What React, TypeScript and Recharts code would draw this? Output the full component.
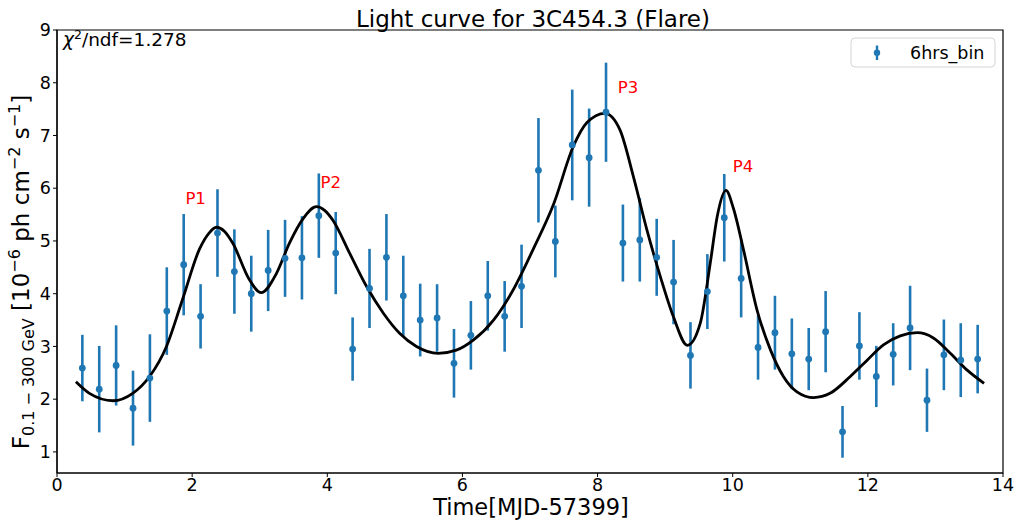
import React from "react";
import {
  ComposedChart,
  Scatter,
  Line,
  XAxis,
  YAxis,
  ErrorBar,
  ReferenceArea,
} from "recharts";

// 6 hr binned flux points, MJD-57399
const binTime = [
  0.375, 0.625, 0.875, 1.125, 1.375, 1.625, 1.875, 2.125, 2.375, 2.625,
  2.875, 3.125, 3.375, 3.625, 3.875, 4.125, 4.375, 4.625, 4.875, 5.125,
  5.375, 5.625, 5.875, 6.125, 6.375, 6.625, 6.875, 7.125, 7.375, 7.625,
  7.875, 8.125, 8.375, 8.625, 8.875, 9.125, 9.375, 9.625, 9.875, 10.125,
  10.375, 10.625, 10.875, 11.125, 11.375, 11.625, 11.875, 12.125, 12.375, 12.625,
  12.875, 13.125, 13.375, 13.625,
];
const binFlux = [
  2.59, 2.19, 2.64, 1.83, 2.4, 3.67, 4.55, 3.57, 5.15, 4.42,
  4.0, 4.44, 4.67, 4.68, 5.48, 4.77, 2.95, 4.1, 4.69, 3.96,
  3.5, 3.54, 2.68, 3.21, 3.96, 3.57, 4.14, 6.34, 4.99, 6.82,
  6.58, 7.44, 4.96, 5.02, 4.69, 4.22, 2.83, 4.04, 5.44, 4.29,
  2.98, 3.26, 2.86, 2.76, 3.28, 1.38, 3.01, 2.43, 2.85, 3.35,
  1.98, 2.84, 2.74, 2.76,
];
const binErr = [
  0.63, 0.82, 0.76, 0.71, 0.83, 0.83, 0.96, 0.61, 0.83, 0.8,
  0.72, 0.77, 0.73, 0.79, 0.8, 0.78, 0.6, 0.75, 0.82, 0.76,
  0.69, 0.64, 0.65, 0.65, 0.66, 0.67, 0.79, 0.99, 0.68, 1.05,
  0.93, 0.94, 0.73, 0.79, 0.73, 0.8, 0.63, 0.71, 0.83, 0.74,
  0.61, 0.7, 0.67, 0.59, 0.77, 0.49, 0.64, 0.58, 0.59, 0.8,
  0.6, 0.67, 0.7, 0.65,
];

// fitted profile
const fitTime = [
  0.28, 0.48, 0.83, 1.12, 1.37, 1.62, 1.86, 2.11, 2.25, 2.36,
  2.48, 2.6, 2.85, 3.02, 3.25, 3.44, 3.64, 3.84, 3.96, 4.09,
  4.33, 4.58, 4.83, 5.07, 5.32, 5.64, 5.91, 6.16, 6.46, 6.75,
  7.05, 7.35, 7.64, 7.84, 8.11, 8.33, 8.53, 8.73, 8.93, 9.12,
  9.33, 9.52, 9.67, 9.77, 9.9, 10.01, 10.16, 10.36, 10.56, 10.75,
  10.95, 11.2, 11.44, 11.74, 11.99, 12.23, 12.48, 12.73, 12.97, 13.22,
  13.47, 13.72,
];
const fitFlux = [
  2.33, 2.11, 1.97, 2.11, 2.43, 3.0, 3.9, 4.85, 5.15, 5.26,
  5.18, 4.96, 4.26, 4.02, 4.39, 4.96, 5.42, 5.65, 5.58, 5.38,
  4.77, 4.14, 3.63, 3.25, 3.0, 2.87, 2.93, 3.12, 3.5, 4.07,
  4.85, 5.7, 6.79, 7.24, 7.42, 7.11, 6.22, 5.21, 4.32, 3.57,
  3.02, 3.44, 4.6, 5.46, 5.96, 5.62, 4.83, 3.69, 2.93, 2.43,
  2.14, 2.03, 2.11, 2.43, 2.74, 3.03, 3.2, 3.26, 3.16, 2.87,
  2.55, 2.3,
];

const peakNames = ["P1", "P2", "P3", "P4"];
const peakTime = [1.9, 3.9, 8.3, 10.0];
const peakFlux = [5.7, 6.0, 7.8, 6.3];

const xTicks = [0, 2, 4, 6, 8, 10, 12, 14];
const yTicks = [1, 2, 3, 4, 5, 6, 7, 8, 9];

const points = binTime.map((x, i) => ({ x, flux: binFlux[i], err: binErr[i] }));
const fit = fitTime.map((x, i) => ({ x, fit: fitFlux[i] }));
const peaks = peakNames.map((name, i) => ({ x: peakTime[i], ly: peakFlux[i], name }));

const BLUE = "#1f77b4";
const FONT = "DejaVu Sans";
const tickStyle = { fontSize: 17.5, fill: "#000", fontFamily: FONT };

export default function App() {
  return (
    <div style={{ position: "absolute", left: 0, top: 0, width: 1018, height: 520, background: "#fff" }}>
      <ComposedChart
        width={1018}
        height={520}
        margin={{ top: 30, right: 15, bottom: 0, left: 0 }}
        style={{ fontFamily: FONT }}
      >
        <XAxis
          dataKey="x"
          type="number"
          domain={[0, 14]}
          ticks={xTicks}
          height={47}
          tick={tickStyle}
          tickSize={4}
          stroke="#000"
          tickLine={{ stroke: "#000" }}
          axisLine={{ stroke: "#000", strokeWidth: 1.2 }}
          allowDataOverflow
        />
        <YAxis
          type="number"
          domain={[0.6, 9]}
          ticks={yTicks}
          width={57}
          tick={tickStyle}
          tickSize={4}
          stroke="#000"
          tickLine={{ stroke: "#000" }}
          axisLine={{ stroke: "#000", strokeWidth: 1.2 }}
          allowDataOverflow
        />
        {/* axes frame */}
        <ReferenceArea
          x1={0}
          x2={14}
          y1={0.6}
          y2={9}
          fill="none"
          fillOpacity={0}
          stroke="#000"
          strokeWidth={1.2}
          ifOverflow="visible"
        />
        <Scatter
          data={points}
          dataKey="flux"
          fill={BLUE}
          isAnimationActive={false}
          shape={(p: any) => <circle cx={p.cx} cy={p.cy} r={3.4} fill={BLUE} />}
        >
          <ErrorBar dataKey="err" direction="y" width={0} stroke={BLUE} strokeWidth={2.6} />
        </Scatter>
        <Line
          data={fit}
          dataKey="fit"
          type="monotone"
          stroke="#000"
          strokeWidth={2.8}
          dot={false}
          isAnimationActive={false}
        />
        <Scatter
          data={peaks}
          dataKey="ly"
          isAnimationActive={false}
          legendType="none"
          shape={(p: any) => (
            <text x={p.cx} y={p.cy} fill="#ff0000" fontSize={16.5} fontFamily={FONT}>
              {p.payload.name}
            </text>
          )}
        />
      </ComposedChart>

      <svg
        width={1018}
        height={520}
        style={{ position: "absolute", left: 0, top: 0, pointerEvents: "none", fontFamily: FONT }}
      >
        <text x={533} y={27} textAnchor="middle" fontSize={23} fill="#000">
          Light curve for 3C454.3 (Flare)
        </text>
        <text x={531} y={515} textAnchor="middle" fontSize={22.5} fill="#000">
          Time[MJD-57399]
        </text>
        <text x={63} y={46} fontSize={18.5} fill="#000">
          <tspan fontStyle="italic">χ</tspan>
          <tspan fontSize={12.5} dy={-7}>2</tspan>
          <tspan dy={7}>/ndf=1.278</tspan>
        </text>
        <text transform="translate(29, 272) rotate(-90)" textAnchor="middle" fontSize={23} fill="#000">
          <tspan>F</tspan>
          <tspan fontSize={16} dy={5}>0.1 − 300 GeV</tspan>
          <tspan dy={-5}> [10</tspan>
          <tspan fontSize={16} dy={-9}>−6</tspan>
          <tspan dy={9}> ph cm</tspan>
          <tspan fontSize={16} dy={-9}>−2</tspan>
          <tspan dy={9}> s</tspan>
          <tspan fontSize={16} dy={-9}>−1</tspan>
          <tspan dy={9}>]</tspan>
        </text>
        <rect x={851} y={38} width={144} height={29} rx={4} fill="#fff" fillOpacity={0.8} stroke="#d5d5d5" />
        <line x1={877} y1={45.5} x2={877} y2={60} stroke={BLUE} strokeWidth={2.4} />
        <circle cx={877} cy={52.7} r={3.2} fill={BLUE} />
        <text x={910} y={58.5} fontSize={17.5} fill="#000">
          6hrs_bin
        </text>
      </svg>
    </div>
  );
}
